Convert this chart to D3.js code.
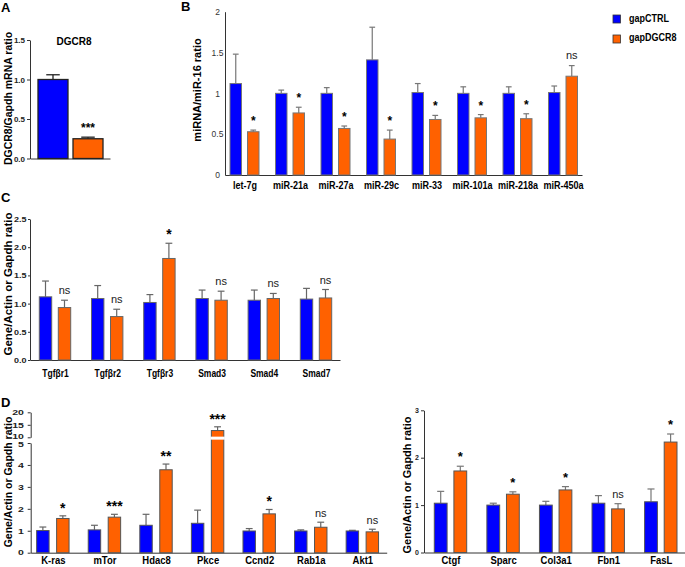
<!DOCTYPE html>
<html>
<head>
<meta charset="utf-8">
<script src="https://cdn.jsdelivr.net/npm/d3@7"></script>
<style>
  body { margin: 0; background: #fff; }
  svg { display: block; font-family: "Liberation Sans", Arial, sans-serif; }
</style>
</head>
<body>
<script>
// ---- data ----
var aCats = ["gapCTRL", "gapDGCR8"];
var aVals = [1.0, 0.25];
var aErr = [0.06, 0.02];
var aSig = ["", "***"];

var bCats = ["let-7g", "miR-21a", "miR-27a", "miR-29c", "miR-33", "miR-101a", "miR-218a", "miR-450a"];
var bCtrl = [1.12, 1.0, 1.0, 1.41, 1.01, 1.0, 1.0, 1.01];
var bCtrlErr = [0.36, 0.04, 0.07, 0.40, 0.11, 0.08, 0.08, 0.08];
var bDgcr = [0.53, 0.76, 0.57, 0.44, 0.68, 0.70, 0.69, 1.21];
var bDgcrErr = [0.02, 0.07, 0.03, 0.11, 0.05, 0.04, 0.06, 0.13];
var bSig = ["*", "*", "*", "*", "*", "*", "*", "ns"];

var cCats = ["Tgf\u03b2r1", "Tgf\u03b2r2", "Tgf\u03b2r3", "Smad3", "Smad4", "Smad7"];
var cCtrl = [1.12, 1.09, 1.02, 1.09, 1.06, 1.08];
var cCtrlErr = [0.28, 0.23, 0.14, 0.15, 0.18, 0.19];
var cDgcr = [0.93, 0.77, 1.80, 1.06, 1.09, 1.10];
var cDgcrErr = [0.13, 0.13, 0.27, 0.16, 0.09, 0.15];
var cSig = ["ns", "ns", "*", "ns", "ns", "ns"];

var dCats = ["K-ras", "mTor", "Hdac8", "Pkce", "Ccnd2", "Rab1a", "Akt1"];
var dCtrl = [1.01, 1.04, 1.25, 1.34, 0.99, 0.99, 0.99];
var dCtrlErr = [0.16, 0.21, 0.50, 0.60, 0.11, 0.05, 0.03];
var dDgcr = [1.56, 1.62, 3.78, 12.7, 1.77, 1.16, 0.95];
var dDgcrErr = [0.12, 0.13, 0.26, 1.5, 0.20, 0.23, 0.12];
var dSig = ["*", "***", "**", "***", "*", "ns", "ns"];

var eCats = ["Ctgf", "Sparc", "Col3a1", "Fbn1", "FasL"];
var eCtrl = [1.04, 1.0, 1.0, 1.04, 1.07];
var eCtrlErr = [0.25, 0.04, 0.08, 0.16, 0.27];
var eDgcr = [1.72, 1.23, 1.32, 0.92, 2.33];
var eDgcrErr = [0.10, 0.05, 0.07, 0.11, 0.17];
var eSig = ["*", "*", "*", "ns", "*"];

var legendLabels = ["gapCTRL", "gapDGCR8"];

var blue = "#0000ff", orange = "#ff6100";

var svg = d3.select("body").append("svg")
    .attr("width", 685)
    .attr("height", 567);

// sx stretches tick text horizontally (the figure's fonts are squashed/stretched)
function styleAxis(g, size, weight, color, sx) {
  g.attr("font-family", null);
  g.select(".domain").attr("stroke", "#333");
  g.selectAll(".tick line").attr("stroke", "#333");
  g.selectAll("text")
      .attr("font-size", size)
      .attr("font-weight", weight)
      .attr("fill", color || "#222");
  if (sx) g.selectAll("text").attr("transform", "scale(" + sx + ",1)");
}

function xAxisLine(x0, x1, y) {
  var s = d3.scaleLinear().range([x0, x1]);
  var g = svg.append("g")
      .attr("transform", "translate(0," + y + ")")
      .call(d3.axisBottom(s).ticks(0).tickSizeOuter(0));
  g.select(".domain").attr("stroke", "#333");
}

function catLabels(x, y, size, sx) {
  var g = svg.append("g")
      .attr("transform", "translate(0," + y + ")")
      .call(d3.axisBottom(x).tickSize(0).tickPadding(0));
  g.select(".domain").remove();
  g.attr("font-family", null);
  g.selectAll("text")
      .attr("dy", 0)
      .attr("font-size", size)
      .attr("font-weight", "bold")
      .attr("fill", "#000")
      .attr("transform", "scale(" + (sx || 1) + ",1)");
}

function yLabel(text, x, y, size) {
  svg.append("text")
      .attr("transform", "translate(" + x + "," + y + ") rotate(-90)")
      .attr("text-anchor", "middle")
      .attr("font-size", size)
      .attr("font-weight", "bold")
      .attr("fill", "#000")
      .text(text);
}

function panelLetter(t, x, y) {
  svg.append("text").attr("x", x).attr("y", y)
      .attr("font-size", 13).attr("font-weight", "bold").text(t);
}

// grouped bars: two series per category, error bars upward, significance above orange
function groupedBars(o) {
  var g = svg.append("g");
  var series = [
    { key: "ctrl", vals: o.ctrl, errs: o.ctrlErr, color: blue },
    { key: "dgcr8", vals: o.dgcr, errs: o.dgcrErr, color: orange }
  ];
  var bw = o.inner.bandwidth();
  series.forEach(function (s) {
    var rows = o.cats.map(function (c, i) { return { c: c, v: s.vals[i], e: s.errs[i] }; });
    var gs = g.selectAll(null).data(rows).enter().append("g");
    gs.append("line")
        .attr("x1", function (d) { return o.x(d.c) + o.inner(s.key) + bw / 2; })
        .attr("x2", function (d) { return o.x(d.c) + o.inner(s.key) + bw / 2; })
        .attr("y1", function (d) { return o.y(d.v); })
        .attr("y2", function (d) { return o.y(d.v + d.e); })
        .attr("stroke", o.errColor).attr("stroke-width", 1.2);
    gs.append("line")
        .attr("x1", function (d) { return o.x(d.c) + o.inner(s.key) + bw / 2 - bw * o.cap / 2; })
        .attr("x2", function (d) { return o.x(d.c) + o.inner(s.key) + bw / 2 + bw * o.cap / 2; })
        .attr("y1", function (d) { return o.y(d.v + d.e); })
        .attr("y2", function (d) { return o.y(d.v + d.e); })
        .attr("stroke", o.errColor).attr("stroke-width", 1.2);
    gs.append("rect")
        .attr("x", function (d) { return o.x(d.c) + o.inner(s.key); })
        .attr("y", function (d) { return o.y(d.v); })
        .attr("width", bw)
        .attr("height", function (d) { return o.y(0) - o.y(d.v); })
        .attr("fill", s.color)
        .attr("stroke", o.barStroke).attr("stroke-width", 1);
    if (o.gap) {
      gs.filter(function (d) { return d.v > o.gap.from; })
        .append("rect")
          .attr("x", function (d) { return o.x(d.c) + o.inner(s.key) - 1; })
          .attr("y", o.gap.y - 1.5)
          .attr("width", bw + 2)
          .attr("height", 3)
          .attr("fill", "#fff");
    }
  });
  o.cats.forEach(function (c, i) {
    var s = o.sig[i];
    if (!s) return;
    var top = o.y(o.dgcr[i] + o.dgcrErr[i]);
    var ns = s === "ns";
    g.append("text")
        .attr("x", o.x(c) + o.inner("dgcr8") + bw / 2)
        .attr("y", top - (ns ? o.nsOff : o.starOff))
        .attr("text-anchor", "middle")
        .attr("font-size", ns ? 11 : o.starSize)
        .attr("font-weight", ns ? "normal" : "bold")
        .attr("fill", ns ? "#222" : "#000")
        .text(s);
  });
}

// ---------- Panel A ----------
panelLetter("A", 1, 12);
var yA = d3.scaleLinear().domain([0, 1.5]).range([158.5, 40]);
var xA = d3.scaleBand().domain(aCats).range([38, 103]).paddingInner(0.143);
svg.append("g").attr("transform", "translate(30,0)")
    .call(d3.axisLeft(yA).tickValues([0, 0.5, 1, 1.5]).tickFormat(d3.format(".1f"))
      .tickSize(3).tickSizeOuter(0).tickPadding(2))
    .call(styleAxis, 8, "bold");
xAxisLine(30, 110, 158.5);
var gA = svg.append("g");
aCats.forEach(function (c, i) {
  var cx = xA(c) + xA.bandwidth() / 2;
  var cap = xA.bandwidth() * 0.45;
  gA.append("line").attr("x1", cx).attr("x2", cx)
      .attr("y1", yA(aVals[i])).attr("y2", yA(aVals[i] + aErr[i]))
      .attr("stroke", "#222").attr("stroke-width", 1.3);
  gA.append("line").attr("x1", cx - cap / 2).attr("x2", cx + cap / 2)
      .attr("y1", yA(aVals[i] + aErr[i])).attr("y2", yA(aVals[i] + aErr[i]))
      .attr("stroke", "#222").attr("stroke-width", 1.3);
  gA.append("rect").attr("x", xA(c)).attr("y", yA(aVals[i]))
      .attr("width", xA.bandwidth()).attr("height", yA(0) - yA(aVals[i]))
      .attr("fill", i === 0 ? blue : orange)
      .attr("stroke", "#222").attr("stroke-width", 1.3);
  if (aSig[i]) {
    gA.append("text").attr("x", cx).attr("y", yA(aVals[i] + aErr[i]) - 5)
        .attr("text-anchor", "middle").attr("font-size", 12).attr("font-weight", "bold")
        .text(aSig[i]);
  }
});
svg.append("text").attr("x", 74).attr("y", 45).attr("text-anchor", "middle")
    .attr("font-size", 10).attr("font-weight", "bold").text("DGCR8");
yLabel("DGCR8/Gapdh mRNA ratio", 12, 98.5, 10.5);

// ---------- Panel B ----------
panelLetter("B", 181, 11);
var yB = d3.scaleLinear().domain([0, 2]).range([175, 11.7]);
var xB = d3.scalePoint().domain(bCats).range([244.5, 563]);
var innerB = d3.scaleBand().domain(["ctrl", "dgcr8"]).range([-14.5, 14.5]).paddingInner(0.343);
var gBy = svg.append("g").attr("transform", "translate(225,0)")
    .call(d3.axisLeft(yB).tickValues([0, 0.5, 1, 1.5, 2]).tickFormat(d3.format("~g"))
      .tickSize(0).tickSizeOuter(0).tickPadding(7.5))
    .call(styleAxis, 8.5, "normal", "#333");
gBy.selectAll(".tick text").attr("text-anchor", "middle");
xAxisLine(225, 582, 175);
groupedBars({ cats: bCats, ctrl: bCtrl, ctrlErr: bCtrlErr, dgcr: bDgcr, dgcrErr: bDgcrErr,
  sig: bSig, x: xB, inner: innerB, y: yB, errColor: "#777", barStroke: "#777",
  cap: 0.5, starOff: 5, nsOff: 7, starSize: 12 });
catLabels(xB, 189, 10.5, 0.86);
yLabel("miRNA/miR-16 ratio", 201, 90, 11);

// legend
var lg = svg.append("g");
legendLabels.forEach(function (t, i) {
  lg.append("rect").attr("x", 613).attr("y", 15 + i * 20).attr("width", 7.5).attr("height", 8)
      .attr("fill", i === 0 ? blue : orange).attr("stroke", "#333").attr("stroke-width", 0.8);
  lg.append("text").attr("x", 629).attr("y", 22.5 + i * 19)
      .attr("font-size", 10).attr("font-weight", "bold")
      .attr("transform", "translate(629,0) scale(0.9,1) translate(-629,0)").text(t);
});

// ---------- Panel C ----------
panelLetter("C", 1, 202);
var yC = d3.scaleLinear().domain([0, 2.5]).range([360, 219]);
var xC = d3.scalePoint().domain(cCats).range([55, 316]);
var innerC = d3.scaleBand().domain(["ctrl", "dgcr8"]).range([-15.7, 15.7]).paddingInner(0.347);
svg.append("g").attr("transform", "translate(30,0)")
    .call(d3.axisLeft(yC).tickValues([0, 0.5, 1, 1.5, 2, 2.5]).tickFormat(d3.format(".1f"))
      .tickSize(2).tickSizeOuter(0).tickPadding(1))
    .call(styleAxis, 7.5, "bold", "#222", 1.2);
xAxisLine(30, 340, 360);
groupedBars({ cats: cCats, ctrl: cCtrl, ctrlErr: cCtrlErr, dgcr: cDgcr, dgcrErr: cDgcrErr,
  sig: cSig, x: xC, inner: innerC, y: yC, errColor: "#666", barStroke: "#666",
  cap: 0.55, starOff: 4.5, nsOff: 6, starSize: 14 });
catLabels(xC, 377, 10, 0.85);
yLabel("Gene/Actin or Gapdh ratio", 12, 284, 11.5);

// ---------- Panel D (left, broken axis) ----------
panelLetter("D", 1, 407);
var yDLow = d3.scaleLinear().domain([0, 5]).range([552.7, 443]);
var yDUp = d3.scaleLinear().domain([10, 20]).range([437.3, 412.3]);
function yD(v) { return v > 5 ? yDUp(Math.max(v, 10)) : yDLow(v); }
var xD = d3.scalePoint().domain(dCats).range([52.85, 362.35]);
var innerD = d3.scaleBand().domain(["ctrl", "dgcr8"]).range([-16.2, 16.2]).paddingInner(0.377);
var gDlow = svg.append("g").attr("transform", "translate(30.7,0)")
    .call(d3.axisLeft(yDLow).tickValues([0, 1, 2, 3, 4, 5]).tickFormat(d3.format("d"))
      .tickSize(3).tickSizeOuter(0).tickPadding(1.5))
    .call(styleAxis, 7, "bold", "#222", 1.5);
var gDup = svg.append("g").attr("transform", "translate(30.7,0)")
    .call(d3.axisLeft(yDUp).tickValues([10, 15, 20]).tickFormat(d3.format("d"))
      .tickSize(3).tickSizeOuter(0).tickPadding(1.5))
    .call(styleAxis, 7, "bold", "#222", 1.5);
// labels either side of the break sit tight together, as in the figure
gDup.selectAll(".tick text").filter(function (d) { return d === 10; }).attr("dy", "0.2em");
gDlow.selectAll(".tick text").filter(function (d) { return d === 5; }).attr("dy", "0.5em");
xAxisLine(30.7, 386.7, 552.7);
groupedBars({ cats: dCats, ctrl: dCtrl, ctrlErr: dCtrlErr, dgcr: dDgcr, dgcrErr: dDgcrErr,
  sig: dSig, x: xD, inner: innerD, y: yD, errColor: "#666", barStroke: "#555",
  cap: 0.55, starOff: 3, nsOff: 5, starSize: 14,
  gap: { from: 5, y: (yDUp(10) + yDLow(5)) / 2 - 2 } });
catLabels(xD, 564, 10, 0.95);
yLabel("Gene/Actin or Gapdh ratio", 12, 482, 10.5);

// ---------- Panel D (right) ----------
var yE = d3.scaleLinear().domain([0, 3]).range([552.5, 410.3]);
var xE = d3.scalePoint().domain(eCats).range([450.5, 660.8]);
var innerE = d3.scaleBand().domain(["ctrl", "dgcr8"]).range([-16.2, 16.2]).paddingInner(0.347);
svg.append("g").attr("transform", "translate(424,0)")
    .call(d3.axisLeft(yE).tickValues([0, 1, 2, 3]).tickFormat(d3.format("d"))
      .tickSize(3).tickSizeOuter(0).tickPadding(2))
    .call(styleAxis, 7, "bold");
xAxisLine(424, 685, 552.5);
groupedBars({ cats: eCats, ctrl: eCtrl, ctrlErr: eCtrlErr, dgcr: eDgcr, dgcrErr: eDgcrErr,
  sig: eSig, x: xE, inner: innerE, y: yE, errColor: "#777", barStroke: "#555",
  cap: 0.55, starOff: 5, nsOff: 6, starSize: 13 });
catLabels(xE, 563.5, 10, 0.95);
yLabel("Gene/Actin or Gapdh ratio", 411, 485, 11);
</script>
</body>
</html>
